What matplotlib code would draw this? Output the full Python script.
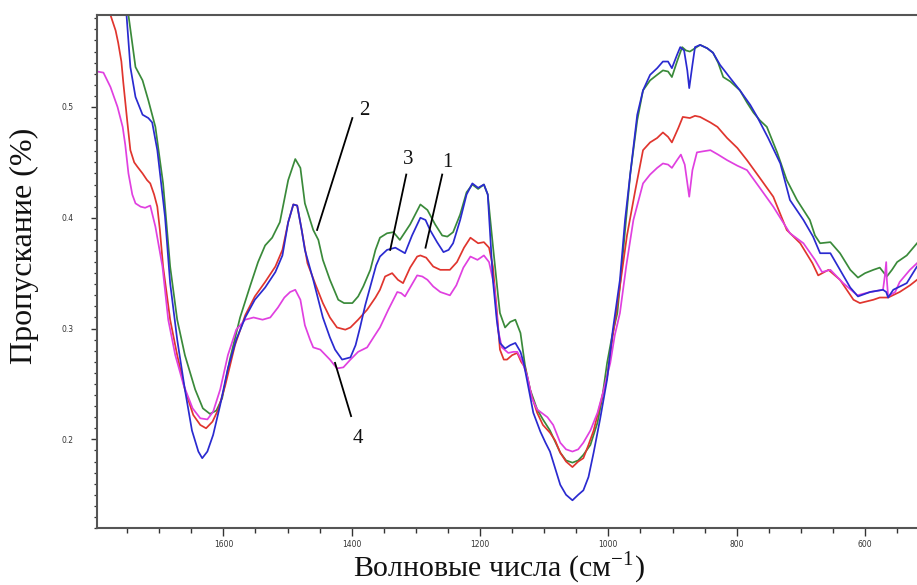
import matplotlib
matplotlib.use("Agg")
import matplotlib.pyplot as plt
from matplotlib.ticker import MultipleLocator, FixedLocator

plt.rcParams['mathtext.fontset'] = 'custom'
plt.rcParams['mathtext.rm'] = 'Liberation Serif'

# ---------------- data (wavenumber cm-1, transmittance) ----------------
green_x = [1790, 1776, 1757, 1748, 1737, 1726, 1717, 1706, 1694, 1683, 1672, 1660, 1644, 1632, 1621,
           1611, 1602, 1590, 1574, 1558, 1546, 1535, 1524, 1512, 1499, 1488, 1480, 1473, 1460, 1452,
           1445, 1434, 1421, 1412, 1399, 1390, 1382, 1371, 1363, 1356, 1345, 1335, 1325, 1309, 1293,
           1282, 1270, 1259, 1251, 1242, 1231, 1221, 1212, 1203, 1194, 1188, 1180, 1172, 1169, 1161,
           1153, 1145, 1137, 1130, 1122, 1111, 1102, 1091, 1075, 1066, 1056, 1047, 1039, 1028, 1017,
           1010, 1002, 994, 986, 979, 966, 955, 946, 935, 924, 915, 907, 901, 893, 885,
           879, 873, 865, 857, 846, 837, 829, 821, 810, 795, 784, 774, 764, 753, 737,
           722, 706, 686, 678, 670, 654, 639, 623, 611, 600, 587, 577, 566, 558, 550,
           535, 519]
green_y = [0.75, 0.70, 0.63, 0.583, 0.536, 0.524, 0.506, 0.482, 0.431, 0.356, 0.308, 0.276, 0.245, 0.228, 0.223,
           0.226, 0.237, 0.272, 0.310, 0.339, 0.360, 0.375, 0.382, 0.396, 0.434, 0.453, 0.445, 0.413, 0.389, 0.380,
           0.362, 0.344, 0.326, 0.323, 0.323, 0.329, 0.338, 0.353, 0.371, 0.382, 0.386, 0.387, 0.380, 0.394, 0.412,
           0.407, 0.394, 0.384, 0.383, 0.387, 0.403, 0.423, 0.430, 0.426, 0.430, 0.421, 0.375, 0.330, 0.314, 0.301,
           0.306, 0.308, 0.296, 0.267, 0.245, 0.227, 0.218, 0.208, 0.188, 0.181, 0.179, 0.181, 0.186, 0.195, 0.215,
           0.236, 0.269, 0.294, 0.314, 0.357, 0.439, 0.488, 0.515, 0.524, 0.529, 0.533, 0.532, 0.527, 0.541, 0.554,
           0.551, 0.550, 0.553, 0.556, 0.553, 0.549, 0.540, 0.527, 0.523, 0.515, 0.504, 0.495, 0.488, 0.482, 0.459,
           0.434, 0.416, 0.398, 0.384, 0.377, 0.378, 0.368, 0.353, 0.346, 0.350, 0.353, 0.355, 0.347, 0.353, 0.360,
           0.366, 0.377]

blue_x = [1790, 1775, 1760, 1751, 1745, 1737, 1726, 1717, 1711, 1703, 1691, 1683, 1672, 1660, 1649,
          1639, 1633, 1625, 1616, 1605, 1593, 1580, 1566, 1551, 1535, 1519, 1508, 1499, 1491, 1485,
          1478, 1473, 1460, 1445, 1434, 1426, 1415, 1402, 1394, 1387, 1379, 1371, 1362, 1356, 1345,
          1332, 1317, 1306, 1293, 1285, 1278, 1267, 1257, 1249, 1242, 1231, 1221, 1212, 1203, 1194,
          1188, 1180, 1174, 1169, 1161, 1153, 1145, 1137, 1132, 1124, 1117, 1106, 1098, 1091, 1083,
          1075, 1066, 1056, 1047, 1039, 1031, 1023, 1013, 1002, 993, 982, 974, 966, 955, 946,
          935, 924, 915, 907, 901, 893, 888, 882, 877, 874, 869, 865, 857, 846, 837,
          826, 810, 795, 779, 768, 751, 732, 717, 696, 681, 670, 654, 636, 623, 611,
          592, 572, 567, 564, 556, 535, 519]
blue_y = [0.75, 0.70, 0.64, 0.583, 0.536, 0.509, 0.493, 0.490, 0.486, 0.461, 0.401, 0.341, 0.290, 0.245, 0.208,
          0.189, 0.183, 0.189, 0.204, 0.231, 0.264, 0.290, 0.310, 0.326, 0.337, 0.351, 0.366, 0.396, 0.412, 0.411,
          0.389, 0.371, 0.344, 0.310, 0.292, 0.281, 0.272, 0.274, 0.285, 0.301, 0.321, 0.338, 0.357, 0.365, 0.371,
          0.373, 0.368, 0.384, 0.400, 0.398, 0.389, 0.378, 0.369, 0.371, 0.377, 0.398, 0.421, 0.431, 0.427, 0.430,
          0.421, 0.344, 0.308, 0.287, 0.282, 0.285, 0.287, 0.279, 0.269, 0.245, 0.224, 0.207, 0.197, 0.189, 0.174,
          0.159, 0.150, 0.145, 0.150, 0.154, 0.166, 0.188, 0.218, 0.254, 0.299, 0.344, 0.398, 0.439, 0.493, 0.515,
          0.529, 0.535, 0.541, 0.541, 0.535, 0.547, 0.554, 0.551, 0.533, 0.517, 0.538, 0.554, 0.556, 0.553, 0.549,
          0.538, 0.526, 0.515, 0.502, 0.491, 0.472, 0.449, 0.416, 0.398, 0.383, 0.368, 0.368, 0.350, 0.337, 0.329,
          0.333, 0.335, 0.333, 0.328, 0.335, 0.341, 0.356]

red_x = [1797, 1776, 1768, 1764, 1759, 1756, 1750, 1745, 1739, 1734, 1726, 1719, 1714, 1708, 1703,
         1699, 1694, 1683, 1672, 1660, 1647, 1636, 1627, 1617, 1608, 1597, 1582, 1566, 1551, 1535,
         1519, 1508, 1499, 1491, 1485, 1478, 1469, 1456, 1445, 1434, 1423, 1410, 1402, 1390, 1376,
         1363, 1356, 1348, 1337, 1328, 1320, 1309, 1298, 1293, 1284, 1273, 1262, 1247, 1236, 1225,
         1215, 1203, 1194, 1186, 1180, 1174, 1169, 1163, 1158, 1150, 1142, 1136, 1130, 1120, 1111,
         1102, 1091, 1083, 1075, 1066, 1056, 1047, 1039, 1031, 1023, 1013, 1002, 993, 982, 971,
         958, 946, 935, 924, 915, 907, 901, 891, 884, 873, 865, 857, 841, 830, 815,
         799, 784, 764, 743, 722, 701, 682, 673, 657, 639, 618, 608, 587, 577, 564,
         546, 530, 519]
red_y = [0.610, 0.583, 0.569, 0.558, 0.541, 0.522, 0.488, 0.461, 0.450, 0.446, 0.440, 0.434, 0.431, 0.421, 0.410,
         0.389, 0.356, 0.308, 0.276, 0.245, 0.222, 0.213, 0.210, 0.216, 0.227, 0.249, 0.285, 0.312, 0.329, 0.342,
         0.356, 0.371, 0.396, 0.412, 0.411, 0.389, 0.359, 0.339, 0.323, 0.310, 0.301, 0.299, 0.301, 0.308, 0.317,
         0.328, 0.335, 0.347, 0.350, 0.344, 0.341, 0.355, 0.365, 0.366, 0.364, 0.356, 0.353, 0.353, 0.360, 0.373,
         0.382, 0.377, 0.378, 0.373, 0.356, 0.317, 0.281, 0.272, 0.272, 0.276, 0.278, 0.270, 0.265, 0.240, 0.224,
         0.213, 0.206, 0.199, 0.188, 0.180, 0.175, 0.180, 0.183, 0.195, 0.208, 0.231, 0.256, 0.294, 0.338, 0.384,
         0.425, 0.461, 0.468, 0.472, 0.477, 0.473, 0.468, 0.481, 0.491, 0.490, 0.492, 0.491, 0.486, 0.482, 0.472,
         0.463, 0.452, 0.436, 0.419, 0.389, 0.377, 0.359, 0.348, 0.353, 0.344, 0.326, 0.323, 0.326, 0.328, 0.328,
         0.333, 0.339, 0.344]

mag_x = [1797, 1787, 1776, 1765, 1757, 1753, 1748, 1742, 1737, 1729, 1722, 1714, 1706, 1695, 1686,
         1675, 1662, 1648, 1636, 1625, 1616, 1605, 1593, 1580, 1566, 1553, 1539, 1527, 1515, 1505,
         1496, 1488, 1480, 1473, 1465, 1460, 1449, 1434, 1423, 1413, 1402, 1390, 1376, 1365, 1356,
         1343, 1329, 1323, 1317, 1307, 1298, 1290, 1282, 1273, 1262, 1247, 1237, 1226, 1215, 1204,
         1194, 1186, 1178, 1172, 1166, 1156, 1148, 1142, 1134, 1126, 1119, 1111, 1095, 1086, 1075,
         1066, 1056, 1047, 1039, 1028, 1017, 1008, 997, 990, 982, 972, 961, 946, 935, 924,
         915, 907, 901, 893, 887, 881, 874, 869, 862, 852, 841, 829, 815, 799, 784,
         764, 743, 717, 696, 678, 667, 654, 634, 612, 592, 572, 569, 567, 566, 564,
         553, 546, 530, 519]
mag_y = [0.532, 0.531, 0.518, 0.500, 0.482, 0.466, 0.440, 0.421, 0.413, 0.410, 0.409, 0.411, 0.392, 0.356, 0.308,
         0.276, 0.249, 0.228, 0.219, 0.218, 0.225, 0.245, 0.276, 0.299, 0.308, 0.310, 0.308, 0.310, 0.319, 0.328,
         0.333, 0.335, 0.326, 0.303, 0.290, 0.283, 0.281, 0.272, 0.264, 0.265, 0.272, 0.279, 0.283, 0.293, 0.301,
         0.317, 0.333, 0.332, 0.329, 0.339, 0.348, 0.347, 0.344, 0.338, 0.333, 0.330, 0.339, 0.355, 0.365, 0.362,
         0.366, 0.360, 0.339, 0.299, 0.283, 0.278, 0.279, 0.279, 0.270, 0.256, 0.237, 0.227, 0.220, 0.213, 0.197,
         0.191, 0.189, 0.191, 0.197, 0.208, 0.224, 0.243, 0.269, 0.294, 0.314, 0.357, 0.398, 0.431, 0.439, 0.445,
         0.449, 0.448, 0.445, 0.452, 0.457, 0.448, 0.419, 0.443, 0.459, 0.460, 0.461, 0.457, 0.452, 0.447, 0.443,
         0.427, 0.410, 0.386, 0.377, 0.362, 0.351, 0.353, 0.341, 0.330, 0.333, 0.335, 0.348, 0.360, 0.344, 0.329,
         0.333, 0.342, 0.353, 0.359]

# annotation labels: (text, text position, line start, line end)
labels = ["1", "2", "3", "4"]
label_text_xy = [(1251, 0.450), (1381, 0.497), (1312, 0.453), (1390, 0.201)]
label_line_from = [(1259, 0.439), (1399, 0.490), (1315, 0.439), (1401, 0.221)]
label_line_to = [(1285, 0.373), (1454, 0.389), (1340, 0.371), (1426, 0.269)]

x_major = [1600, 1400, 1200, 1000, 800, 600]
y_major = [0.2, 0.3, 0.4, 0.5]

# ---------------- figure ----------------
fig = plt.figure(figsize=(9.17, 5.85), dpi=100)
ax = fig.add_axes([97 / 917, 1 - 528 / 585, 1 - 97 / 917, (528 - 15) / 585])

lw = 1.25
ax.plot(green_x, green_y, color='#3a8a3a', lw=lw)
ax.plot(red_x, red_y, color='#e0352e', lw=lw)
ax.plot(mag_x, mag_y, color='#e040e0', lw=lw)
ax.plot(blue_x, blue_y, color='#2a2ad0', lw=lw)

for t, txy, p0, p1 in zip(labels, label_text_xy, label_line_from, label_line_to):
    ax.plot([p0[0], p1[0]], [p0[1], p1[1]], color='black', lw=1.3)
    ax.text(txy[0], txy[1], t, fontsize=15, family='Liberation Serif',
            ha='center', va='center', color='#111111')

ax.set_xlim(1797, 519)
ax.set_ylim(0.120, 0.583)

ax.xaxis.set_major_locator(FixedLocator(x_major))
ax.xaxis.set_minor_locator(MultipleLocator(50))
ax.yaxis.set_major_locator(FixedLocator(y_major))
ax.yaxis.set_minor_locator(MultipleLocator(0.01))
ax.set_xticklabels([str(v) for v in x_major])
ax.set_yticklabels([str(v) for v in y_major])

ax.tick_params(axis='x', which='major', length=6, width=1.0, color='#333333',
               labelsize=5.5, pad=2.5, labelcolor='#333333')
ax.tick_params(axis='x', which='minor', length=3.5, width=1.0, color='#333333')
ax.tick_params(axis='y', which='major', length=4, width=1.0, color='#333333',
               labelsize=5.5, pad=13, labelcolor='#333333')
ax.tick_params(axis='y', which='minor', length=2, width=0.9, color='#333333')

for s in ['left', 'bottom', 'top']:
    ax.spines[s].set_color('#555555')
    ax.spines[s].set_linewidth(1.5)
ax.spines['right'].set_visible(False)

ax.set_xlabel('Волновые числа (см$^{\\mathregular{-1}}$)', family='Liberation Serif', fontsize=21.5,
              color='#111111')
ax.xaxis.set_label_coords(0.49, -0.078)
ax.xaxis.label.set_va('center')
ax.set_ylabel('Пропускание (%)', family='Liberation Serif', fontsize=23, color='#111111')
ax.yaxis.set_label_coords(-0.088, 0.55)
ax.yaxis.label.set_va('center')

fig.savefig('out.png', dpi=100)
